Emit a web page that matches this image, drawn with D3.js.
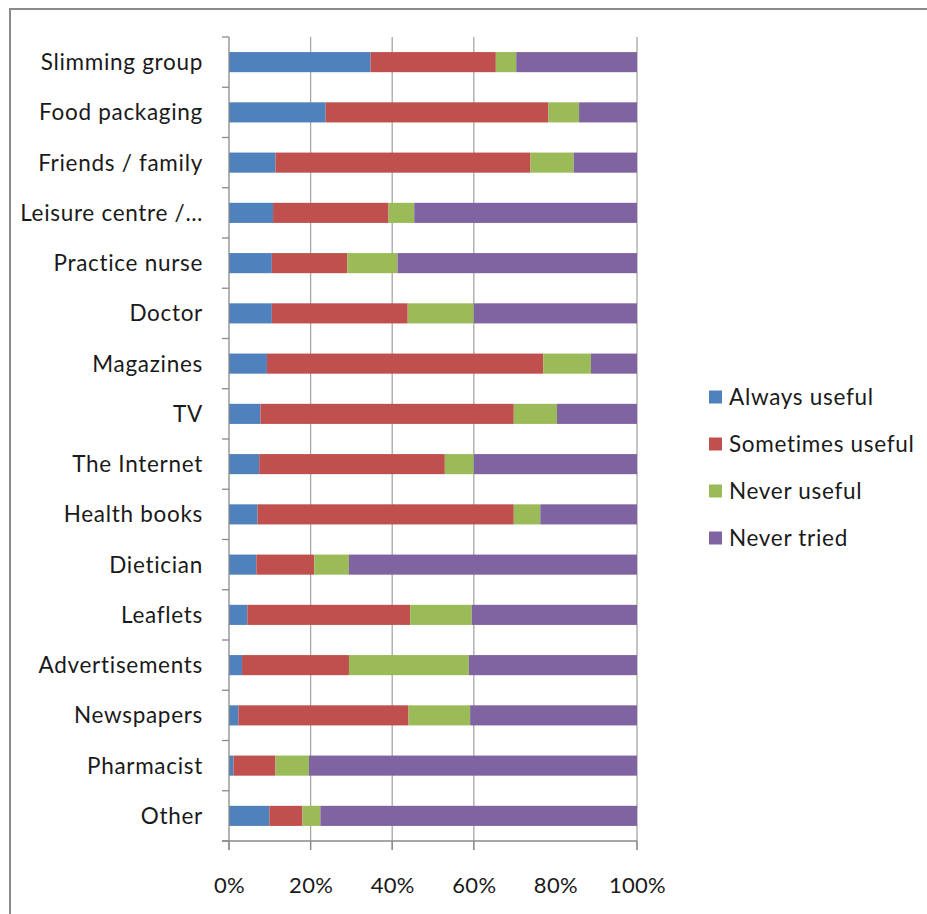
<!DOCTYPE html>
<html>
<head>
<meta charset="utf-8">
<script src="https://cdn.jsdelivr.net/npm/d3@7"></script>
<style>
  body { margin: 0; background: #ffffff; }
  svg { display: block; }
  text { font-family: "Lato", "Liberation Sans", sans-serif; fill: #1a1a1a; }
</style>
</head>
<body>
<div id="chart"></div>
<script>
// categories, top to bottom
const categories = ["Slimming group", "Food packaging", "Friends / family", "Leisure centre /\u2026",
    "Practice nurse", "Doctor", "Magazines", "TV", "The Internet", "Health books", "Dietician",
    "Leaflets", "Advertisements", "Newspapers", "Pharmacist", "Other"];

// percentages
const alwaysUseful    = [34.7, 23.7, 11.4, 10.8, 10.5, 10.5, 9.3, 7.7, 7.4, 7.0, 6.7, 4.5, 3.2, 2.3, 1.1, 9.9];
const sometimesUseful = [30.7, 54.6, 62.5, 28.3, 18.5, 33.3, 67.7, 62.1, 45.5, 62.8, 14.2, 39.9, 26.2, 41.7, 10.3, 8.1];
const neverUseful     = [5.0, 7.5, 10.6, 6.3, 12.3, 16.2, 11.7, 10.6, 7.1, 6.5, 8.5, 15.1, 29.4, 15.1, 8.2, 4.4];
const neverTried      = [29.6, 14.2, 15.5, 54.6, 58.7, 40.0, 11.3, 19.6, 40.0, 23.7, 70.6, 40.5, 41.2, 40.9, 80.4, 77.6];

const seriesNames = ["Always useful", "Sometimes useful", "Never useful", "Never tried"];
const seriesColors = ["#4F81BD", "#C0504D", "#9BBB59", "#8064A2"];
const xTicks = [0, 0.2, 0.4, 0.6, 0.8, 1];
const gridTicks = [0.2, 0.4, 0.6, 1]; // the 80% line is not drawn in the original

const W = 927, H = 914;
const margin = { top: 37, left: 229, right: 290, bottom: 73 };

const svg = d3.select("#chart").append("svg")
    .attr("width", W)
    .attr("height", H);

// outer frame, runs off the right and bottom of the picture
svg.append("rect")
    .attr("x", 10).attr("y", 9)
    .attr("width", 1000).attr("height", 1000)
    .attr("fill", "none")
    .attr("stroke", "#8a8a8a")
    .attr("stroke-width", 2);

const x = d3.scaleLinear().domain([0, 1]).range([margin.left, W - margin.right]);
const y = d3.scaleBand().domain(categories).range([margin.top, H - margin.bottom]).paddingInner(0.6).paddingOuter(0.3);

// rows as fractions for the stack
const rows = categories.map((c, i) => {
    const total = alwaysUseful[i] + sometimesUseful[i] + neverUseful[i] + neverTried[i];
    return {
        cat: c,
        "Always useful": alwaysUseful[i] / total,
        "Sometimes useful": sometimesUseful[i] / total,
        "Never useful": neverUseful[i] / total,
        "Never tried": neverTried[i] / total
    };
});
const stacked = d3.stack().keys(seriesNames)(rows);

// vertical gridlines
svg.selectAll(".grid")
    .data(gridTicks)
    .enter()
    .append("line")
    .attr("x1", d => x(d)).attr("x2", d => x(d))
    .attr("y1", margin.top).attr("y2", H - margin.bottom + 9)
    .attr("stroke", "#a6a6a6")
    .attr("stroke-width", 1.3);

// bars
svg.selectAll(".series")
    .data(stacked)
    .enter()
    .append("g")
    .attr("fill", (d, i) => seriesColors[i])
    .selectAll("rect")
    .data(d => d)
    .enter()
    .append("rect")
    .attr("x", d => x(d[0]))
    .attr("width", d => x(d[1]) - x(d[0]))
    .attr("y", d => y(d.data.cat))
    .attr("height", y.bandwidth());

// y axis with ticks between categories
const yStart = margin.top;
const yEnd = H - margin.bottom;
svg.append("line")
    .attr("x1", x(0)).attr("x2", x(0))
    .attr("y1", yStart).attr("y2", yEnd + 9)
    .attr("stroke", "#8a8a8a").attr("stroke-width", 1.3);
svg.selectAll(".ytick")
    .data(d3.range(categories.length + 1))
    .enter()
    .append("line")
    .attr("x1", x(0) - 7).attr("x2", x(0))
    .attr("y1", i => yStart + i * (yEnd - yStart) / categories.length)
    .attr("y2", i => yStart + i * (yEnd - yStart) / categories.length)
    .attr("stroke", "#8a8a8a").attr("stroke-width", 1.3);

// category labels
svg.selectAll(".ylabel")
    .data(categories)
    .enter()
    .append("text")
    .attr("x", 203)
    .attr("y", d => y(d) + y.bandwidth() / 2)
    .attr("dy", "0.35em")
    .attr("text-anchor", "end")
    .attr("font-size", "22.5px")
    .attr("letter-spacing", "0.7px")
    .text(d => d);

// x axis
svg.append("g")
    .attr("transform", `translate(0,${yEnd})`)
    .call(d3.axisBottom(x).tickValues(xTicks).tickFormat(d3.format(".0%")).tickSize(0).tickPadding(36))
    .call(g => g.select(".domain").remove())
    .call(g => g.selectAll(".tick text")
        .attr("font-size", "22px")
        .attr("letter-spacing", "0.3px")
        .attr("font-family", "Lato, 'Liberation Sans', sans-serif")
        .attr("fill", "#1a1a1a"));
svg.append("line")
    .attr("x1", x(0) - 7).attr("x2", x(1))
    .attr("y1", yEnd).attr("y2", yEnd)
    .attr("stroke", "#8a8a8a").attr("stroke-width", 1.3);
svg.selectAll(".xtick")
    .data([0, 0.2, 0.4, 0.6, 1])
    .enter()
    .append("line")
    .attr("x1", d => x(d)).attr("x2", d => x(d))
    .attr("y1", yEnd).attr("y2", yEnd + 9)
    .attr("stroke", "#8a8a8a").attr("stroke-width", 1.3);

// legend
const legend = svg.append("g").attr("transform", "translate(709,397)");
seriesNames.forEach((name, i) => {
    const item = legend.append("g").attr("transform", `translate(0,${i * 47})`);
    item.append("rect")
        .attr("x", 0).attr("y", -6.5)
        .attr("width", 13).attr("height", 13)
        .attr("fill", seriesColors[i]);
    item.append("text")
        .attr("x", 20)
        .attr("y", 0)
        .attr("dy", "0.35em")
        .attr("font-size", "22.5px")
        .attr("letter-spacing", "0.7px")
        .text(name);
});
</script>
</body>
</html>
